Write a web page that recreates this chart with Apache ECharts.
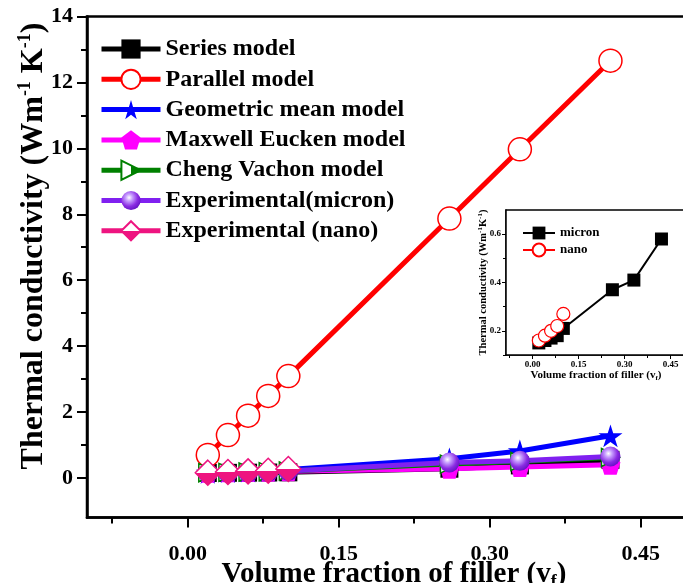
<!DOCTYPE html>
<html><head><meta charset="utf-8">
<script src="https://cdn.jsdelivr.net/npm/echarts@6/dist/echarts.min.js"></script>
<style>html,body{margin:0;padding:0;background:#fff}#c{width:683px;height:583px}</style>
</head><body><div id="c"></div><script>
// ---- data ----
const vfModel = [0.02, 0.04, 0.06, 0.08, 0.10, 0.26, 0.33, 0.42];
const vfNano = [0.02, 0.04, 0.06, 0.08, 0.10];
const seriesModel = [0.15, 0.155, 0.16, 0.165, 0.17, 0.28, 0.38, 0.55];
const parallelModel = [0.70, 1.30, 1.89, 2.49, 3.09, 7.87, 9.97, 12.66];
const geometricModel = [0.17, 0.19, 0.21, 0.23, 0.26, 0.58, 0.82, 1.28];
const maxwellModel = [0.16, 0.17, 0.18, 0.19, 0.20, 0.28, 0.33, 0.40];
const chengModel = [0.16, 0.17, 0.18, 0.19, 0.21, 0.42, 0.50, 0.62];
const expMicronMain = [0.15, 0.16, 0.17, 0.18, 0.21, 0.47, 0.52, 0.65];
const expNanoMain = [0.16, 0.18, 0.20, 0.22, 0.27];
const insetMicron = [0.15, 0.16, 0.17, 0.18, 0.21, 0.37, 0.41, 0.58];
const insetNano = [0.16, 0.18, 0.20, 0.22, 0.27];
const xMajorTicks = [0, 0.15, 0.30, 0.45];
const xMinorTicks = [-0.075, 0.075, 0.225, 0.375];
const yMajorTicks = [0, 2, 4, 6, 8, 10, 12, 14];
const yMinorTicks = [1, 3, 5, 7, 9, 11, 13];
const insetYMajor = [0.2, 0.4, 0.6];
const insetYMinor = [0.1, 0.3, 0.5];
const mainNames = ['Series model', 'Parallel model', 'Geometric mean model', 'Maxwell Eucken model', 'Cheng Vachon model', 'Experimental(micron)', 'Experimental (nano)'];
const insetNames = ['micron', 'nano'];

// ---- styling ----
const FONT = 'Liberation Serif';
const pair = (xs, ys) => xs.map((x, i) => [x, ys[i]]);
const halfV = (c) => ({type: 'linear', x: 0, y: 0, x2: 0, y2: 1, colorStops: [
  {offset: 0, color: '#fff'}, {offset: 0.5, color: '#fff'}, {offset: 0.5, color: c}, {offset: 1, color: c}]});
const halfH = (c) => ({type: 'linear', x: 0, y: 0, x2: 1, y2: 0, colorStops: [
  {offset: 0, color: '#fff'}, {offset: 0.5, color: '#fff'}, {offset: 0.5, color: c}, {offset: 1, color: c}]});
const sphere = {type: 'radial', x: 0.4, y: 0.35, r: 0.7, colorStops: [
  {offset: 0, color: '#ffffff'}, {offset: 0.25, color: '#c8a0ff'}, {offset: 0.65, color: '#8a2be2'}, {offset: 1, color: '#6010c0'}]};
const STAR = 'path://M50,0 L61,35 L98,35 L68,57 L79,91 L50,70 L21,91 L32,57 L2,35 L39,35 Z';
const PENT = 'path://M50,0 L100,38 L81,100 L19,100 L0,38 Z';
const TRI = 'path://M0,0 L100,50 L0,100 Z';
const RED = '#ff0000', BLUE = '#0000ff', MAG = '#ff00ff', GREEN = '#008000', PURP = '#8020f0', PINK = '#ee1480';

function lineS(name, data, color, symbol, size, itemStyle, extra) {
  return Object.assign({
    name, type: 'line', data, xAxisIndex: 0, yAxisIndex: 0,
    symbol, symbolSize: size, symbolKeepAspect: true, showSymbol: true,
    lineStyle: {color, width: 5},
    itemStyle: Object.assign({color}, itemStyle || {}),
    animation: false, emphasis: {disabled: true}
  }, extra || {});
}

const tickFont = {fontSize: 22, fontWeight: 'bold', fontFamily: FONT, color: '#000'};
const mainLine = {show: true, onZero: false, lineStyle: {color: '#000', width: 2.5}};
const insetLine = {show: true, onZero: false, lineStyle: {color: '#000', width: 1.5}};
const noLine = {show: false, onZero: false};

const option = {
  backgroundColor: '#fff',
  animation: false,
  grid: [
    {left: 87, top: 16.5, width: 604, height: 501, show: true, borderColor: '#000', borderWidth: 2.5,
     containLabel: false, outerBoundsMode: 'none'},
    {left: 506, top: 210, width: 180, height: 145, show: true, borderColor: '#000', borderWidth: 1.5,
     backgroundColor: '#fff', containLabel: false, outerBoundsMode: 'none', z: 5}
  ],
  xAxis: [
    {gridIndex: 0, type: 'value', position: 'bottom', min: -0.1, max: 0.5,
     axisLine: mainLine,
     axisTick: {show: true, customValues: xMajorTicks, length: 10, lineStyle: {color: '#000', width: 2}},
     axisLabel: Object.assign({customValues: xMajorTicks, formatter: v => v.toFixed(2), margin: 26}, tickFont),
     splitLine: {show: false},
     name: '{a|Volume fraction of filler (v}{b|f}{a|)}', nameLocation: 'middle', nameGap: 40, nameMoveOverlap: false,
     nameTextStyle: {padding: [0, 0, 0, 10], rich: {
       a: {fontSize: 29, fontWeight: 'bold', fontFamily: FONT, color: '#000', lineHeight: 34},
       b: {fontSize: 18, fontWeight: 'bold', fontFamily: FONT, color: '#000', lineHeight: 18, verticalAlign: 'bottom'}}}},
    {gridIndex: 0, type: 'value', position: 'bottom', min: -0.1, max: 0.5,
     axisLine: noLine,
     axisTick: {show: true, customValues: xMinorTicks, length: 6, lineStyle: {color: '#000', width: 2}},
     axisLabel: {show: false}, splitLine: {show: false}},
    {gridIndex: 1, type: 'value', position: 'bottom', min: -0.087, max: 0.5,
     axisLine: insetLine,
     axisTick: {show: true, customValues: xMajorTicks, length: 4, lineStyle: {color: '#000', width: 1}},
     axisLabel: {customValues: xMajorTicks, formatter: v => v.toFixed(2), margin: 5, fontSize: 9, fontWeight: 'bold', fontFamily: FONT, color: '#000'},
     splitLine: {show: false},
     name: '{a|Volume fraction of filler (v}{b|f}{a|)}', nameLocation: 'middle', nameGap: 14, nameMoveOverlap: false,
     nameTextStyle: {rich: {
       a: {fontSize: 11, fontWeight: 'bold', fontFamily: FONT, color: '#000', lineHeight: 13},
       b: {fontSize: 7, fontWeight: 'bold', fontFamily: FONT, color: '#000', lineHeight: 7, verticalAlign: 'bottom'}}}},
    {gridIndex: 1, type: 'value', position: 'bottom', min: -0.087, max: 0.5,
     axisLine: noLine,
     axisTick: {show: true, customValues: xMinorTicks, length: 3, lineStyle: {color: '#000', width: 1}},
     axisLabel: {show: false}, splitLine: {show: false}}
  ],
  yAxis: [
    {gridIndex: 0, type: 'value', position: 'left', min: -1.2, max: 14,
     axisLine: mainLine,
     axisTick: {show: true, customValues: yMajorTicks, length: 10, lineStyle: {color: '#000', width: 2}},
     axisLabel: Object.assign({customValues: yMajorTicks, formatter: v => String(v), margin: 14}, tickFont),
     splitLine: {show: false},
     name: '{a|Thermal conductivity (Wm}{s|-1}{a| K}{s|-1}{a|)}', nameLocation: 'middle', nameGap: 35, nameMoveOverlap: false,
     nameTextStyle: {padding: [0, 0, 0, 42], rich: {
       a: {fontSize: 32, fontWeight: 'bold', fontFamily: FONT, color: '#000', lineHeight: 36},
       s: {fontSize: 18, fontWeight: 'bold', fontFamily: FONT, color: '#000', lineHeight: 17, verticalAlign: 'top'}}}},
    {gridIndex: 0, type: 'value', position: 'left', min: -1.2, max: 14,
     axisLine: noLine,
     axisTick: {show: true, customValues: yMinorTicks, length: 6, lineStyle: {color: '#000', width: 2}},
     axisLabel: {show: false}, splitLine: {show: false}},
    {gridIndex: 1, type: 'value', position: 'left', min: 0.1, max: 0.7,
     axisLine: insetLine,
     axisTick: {show: true, customValues: insetYMajor, length: 4, lineStyle: {color: '#000', width: 1}},
     axisLabel: {customValues: insetYMajor, formatter: v => v.toFixed(1), margin: 5, fontSize: 9, fontWeight: 'bold', fontFamily: FONT, color: '#000'},
     splitLine: {show: false},
     name: '{a|Thermal conductivity (Wm}{s|-1}{a|K}{s|-1}{a|)}', nameLocation: 'middle', nameGap: 16, nameMoveOverlap: false,
     nameTextStyle: {rich: {
       a: {fontSize: 10.5, fontWeight: 'bold', fontFamily: FONT, color: '#000', lineHeight: 13},
       s: {fontSize: 7, fontWeight: 'bold', fontFamily: FONT, color: '#000', lineHeight: 7, verticalAlign: 'top'}}}},
    {gridIndex: 1, type: 'value', position: 'left', min: 0.1, max: 0.7,
     axisLine: noLine,
     axisTick: {show: true, customValues: insetYMinor, length: 3, lineStyle: {color: '#000', width: 1}},
     axisLabel: {show: false}, splitLine: {show: false}}
  ],
  legend: [
    {data: mainNames, orient: 'vertical', left: 99, top: 37, itemWidth: 59, itemHeight: 24, itemGap: 6.3,
     selectedMode: false, padding: 0, lineStyle: {width: 5},
     textStyle: {fontSize: 24, fontWeight: 'bold', fontFamily: FONT, color: '#000', lineHeight: 24}},
    {data: insetNames, orient: 'vertical', left: 522, top: 225, itemWidth: 32, itemHeight: 16, itemGap: 1,
     selectedMode: false, padding: 0, z: 10, lineStyle: {width: 2},
     textStyle: {fontSize: 13, fontWeight: 'bold', fontFamily: FONT, color: '#000', lineHeight: 16}}
  ],
  series: [
    lineS(mainNames[0], pair(vfModel, seriesModel), '#000', 'rect', 18),
    lineS(mainNames[1], pair(vfModel, parallelModel), RED, 'circle', 23, {color: '#fff', borderColor: RED, borderWidth: 1.5}),
    lineS(mainNames[2], pair(vfModel, geometricModel), BLUE, STAR, 24),
    lineS(mainNames[3], pair(vfModel, maxwellModel), MAG, PENT, 20),
    lineS(mainNames[4], pair(vfModel, chengModel), GREEN, TRI, 18, {color: halfH(GREEN), borderColor: GREEN, borderWidth: 1.5}),
    lineS(mainNames[5], pair(vfModel, expMicronMain), PURP, 'circle', 20, {color: sphere}),
    lineS(mainNames[6], pair(vfNano, expNanoMain), PINK, 'diamond', 25, {color: halfV(PINK), borderColor: PINK, borderWidth: 1.5}),
    lineS(insetNames[0], pair(vfModel, insetMicron), '#000', 'rect', 13, null,
      {xAxisIndex: 2, yAxisIndex: 2, lineStyle: {color: '#000', width: 2}, z: 6}),
    lineS(insetNames[1], pair(vfNano, insetNano), RED, 'circle', 13, {color: '#fff', borderColor: RED, borderWidth: 1.2},
      {xAxisIndex: 2, yAxisIndex: 2, lineStyle: {color: RED, width: 2}, z: 6})
  ]
};
const chart = echarts.init(document.getElementById('c'), null, {renderer: 'canvas'});
chart.setOption(option);
</script></body></html>
